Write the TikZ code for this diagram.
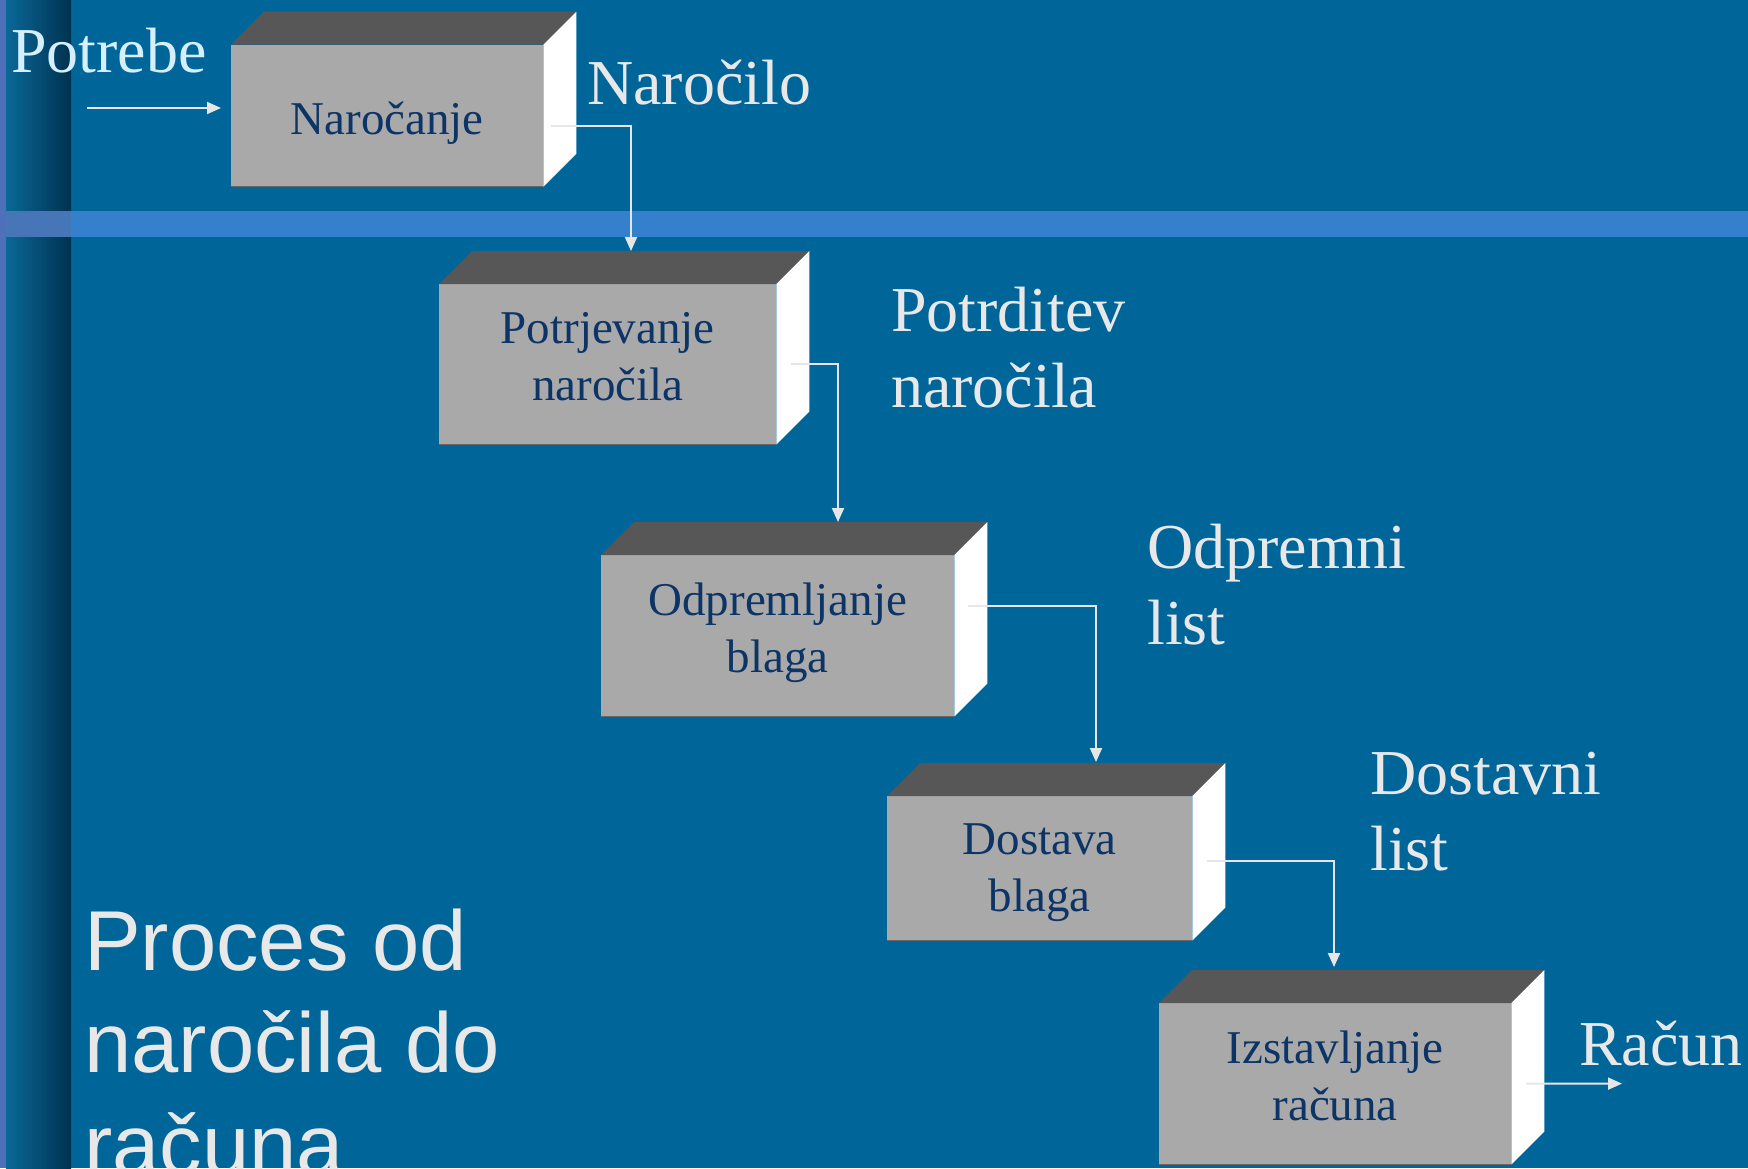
\documentclass[tikz,border=0pt]{standalone}
\usepackage{fontspec}
\setmainfont{Liberation Serif}
\setsansfont{Liberation Sans}
\usetikzlibrary{arrows.meta,calc}
\definecolor{bgblue}{RGB}{0,102,153}
\definecolor{bandblue}{RGB}{52,128,204}
\definecolor{bandover}{RGB}{70,118,184}
\definecolor{texblue}{RGB}{78,112,186}
\definecolor{stripel}{RGB}{10,104,152}
\definecolor{striper}{RGB}{0,50,80}
\definecolor{frontgray}{RGB}{169,169,169}
\definecolor{topgray}{RGB}{87,87,87}
\definecolor{boxtext}{RGB}{12,52,102}
\definecolor{labeltext}{RGB}{232,232,232}
\definecolor{needtext}{RGB}{212,240,255}
\definecolor{linecol}{RGB}{230,230,230}
\tikzset{
  boxface/.style={fill=frontgray, draw=none, anchor=north west, inner sep=0pt},
  boxlabel/.style={align=center, text=boxtext, font=\fontsize{47}{57}\selectfont, inner sep=0pt},
  lbl/.style={anchor=base west, align=left, text=labeltext, inner sep=0pt,
    font=\fontsize{64}{76}\selectfont},
  conn/.style={draw=linecol, line width=2pt, -{Triangle[length=14pt,width=12pt]}}
}
\newcommand{\cuboid}[1]{%
  \fill[topgray] (#1.north west) -- ++(33,-33) -- ($(#1.north east)+(33,-33)$) -- (#1.north east) -- cycle;
  \fill[white] (#1.north east) -- ++(33,-33) -- ($(#1.south east)+(33,-33)$) -- (#1.south east) -- cycle;
  \draw[gray!80!black, line width=1.5pt] (#1.south west) -- (#1.south east);
}
\begin{document}
\begin{tikzpicture}[x=1pt,y=-1pt]
\useasboundingbox (0,0) rectangle (1748,1168);
\clip (0,0) rectangle (1748,1168);
% background
\fill[bgblue] (0,0) rectangle (1748,1168);
\fill[texblue] (0,0) rectangle (6,1168);
\shade[left color=stripel, right color=striper] (6,0) rectangle (71,1168);
\fill[bandover] (6,211) rectangle (71,237);
\fill[bandblue] (71,211) rectangle (1748,237);

% boxes (front faces)
\node[boxface, minimum width=312pt, minimum height=141.6pt] (b1) at (231,44.6) {};
\node[boxface, minimum width=337pt, minimum height=160pt] (b2) at (439,284) {};
\node[boxface, minimum width=353pt, minimum height=161pt] (b3) at (601,555) {};
\node[boxface, minimum width=305pt, minimum height=144pt] (b4) at (887,796) {};
\node[boxface, minimum width=352pt, minimum height=161pt] (b5) at (1159,1003) {};
\cuboid{b1}
\cuboid{b2}
\cuboid{b3}
\cuboid{b4}
\cuboid{b5}
\node[boxlabel] (t1) at ($(b1.center)+(0,8)$) {Naročanje};
\node[boxlabel] (t2) at ($(b2.center)+(0,-8)$) {Potrjevanje\\naročila};
\node[boxlabel] (t3) at ($(b3.center)+(0,-3)$) {Odpremljanje\\blaga};
\node[boxlabel] (t4) at ($(b4.center)+(0,4)$) {Dostava\\blaga};
\node[boxlabel] (t5) at ($(b5.center)+(0,-8)$) {Izstavljanje\\računa};

% labels (base = last line baseline)
\node[lbl, text=needtext] (lpot) at (11,72) {Potrebe};
\node[lbl] (lnar) at (587,104) {Naročilo};
\node[lbl] (lptr) at (891,407) {Potrditev\\naročila};
\node[lbl] (lodp) at (1147,644) {Odpremni\\list};
\node[lbl] (ldos) at (1370,870) {Dostavni\\list};
\node[lbl] (lrac) at (1579,1065) {Račun};
\node[anchor=base west, align=left, text=labeltext, inner sep=0pt,
  font=\sffamily\fontsize{85}{102}\selectfont] (title) at (84,1174) {Proces od\\naročila do\\računa};

% connectors
\coordinate (in) at (87,108);
\coordinate (out) at (1622,1083.6);
\draw[conn, shorten >=10pt] (in) -- (in -| b1.west);
\draw[conn] ($(b1.east)+(8,10)$) -| ($(b2.north west)+(192,-33)$);
\draw[conn] ($(b2.east)+(15,0)$) -| ($(b3.north west)+(237,-33)$);
\draw[conn] ($(b3.east)+(14,-30)$) -| ($(b4.north west)+(209,-34)$);
\draw[conn] ($(b4.east)+(15,-7)$) -| ($(b5.north west)+(175,-36)$);
\draw[conn] ($(b5.east)+(15,0)$) -- (out);
\end{tikzpicture}
\end{document}
